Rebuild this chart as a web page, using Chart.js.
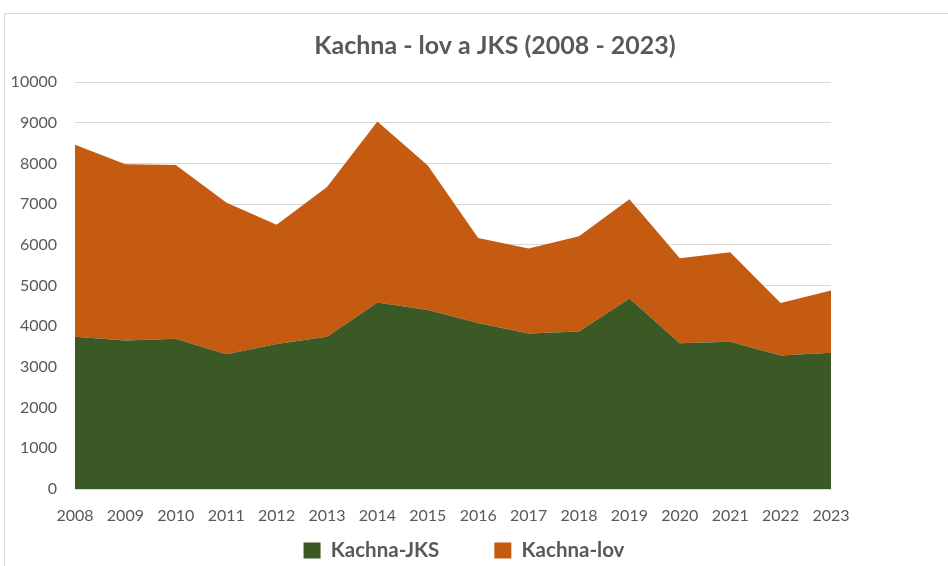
<!DOCTYPE html>
<html>
<head>
<meta charset="utf-8">
<script src="https://cdn.jsdelivr.net/npm/chart.js@4"></script>
<style>
  html, body { margin: 0; padding: 0; background: #fff; }
  #wrap { position: relative; width: 948px; height: 566px; overflow: hidden; }
  #frame { position: absolute; left: 4px; top: 13px; width: 1000px; height: 600px; border: 1px solid #d9d9d9; box-sizing: border-box; }
  canvas { position: absolute; left: 0; top: 0; }
</style>
</head>
<body>
<div id="wrap">
  <div id="frame"></div>
  <canvas id="chart" width="948" height="566"></canvas>
</div>
<script>
// Data
const years = ['2008', '2009', '2010', '2011', '2012', '2013', '2014', '2015',
               '2016', '2017', '2018', '2019', '2020', '2021', '2022', '2023'];
const kachnaJKS = [3740, 3650, 3690, 3310, 3560, 3740, 4580, 4400,
                   4080, 3820, 3870, 4680, 3580, 3620, 3280, 3350];
const kachnaLov = [4720, 4330, 4270, 3730, 2930, 3680, 4450, 3550,
                   2090, 2090, 2340, 2440, 2090, 2200, 1290, 1530];
const yMax = 10000;
const yStep = 1000;

const gray = '#595959';
const gridColor = '#d9d9d9';

// move title / legend to where Excel put them, and let x labels show
const nudge = {
    id: 'nudge',
    afterLayout(chart) {
        const t = chart.titleBlock, l = chart.legend, x = chart.scales.x;
        if (t) { t.left += 79.5; t.right += 79.5; }
        if (l) { l.left += 48.5; l.right += 48.5; l.top -= 3.75; l.bottom -= 3.75; }
        x.bottom = x.top + 45;
    }
};

new Chart(document.getElementById('chart'), {
    type: 'line',
    data: {
        labels: years,
        datasets: [
            {
                label: 'Kachna-JKS',
                data: kachnaJKS,
                backgroundColor: '#3b5925',
                borderColor: '#3b5925',
                borderWidth: 0,
                pointRadius: 0,
                fill: 'origin'
            },
            {
                label: 'Kachna-lov',
                data: kachnaLov,
                backgroundColor: '#c55a11',
                borderColor: '#c55a11',
                borderWidth: 0,
                pointRadius: 0,
                fill: '-1'
            }
        ]
    },
    options: {
        responsive: false,
        animation: false,
        layout: { padding: { left: 0, right: 117, top: 0, bottom: -8.5 } },
        plugins: {
            title: {
                display: true,
                text: 'Kachna - lov a JKS (2008 - 2023)',
                color: gray,
                font: { family: 'Lato', size: 25, weight: 'bold' },
                padding: { top: 31, bottom: 21 }
            },
            legend: {
                position: 'bottom',
                labels: {
                    color: gray,
                    font: { family: 'Lato', size: 20.5, weight: 'bold' },
                    boxWidth: 17,
                    boxHeight: 16,
                    padding: 55
                }
            },
            tooltip: { enabled: false }
        },
        scales: {
            x: {
                offset: false,
                grid: { display: false, drawTicks: false },
                border: { display: true, color: gridColor },
                ticks: {
                    color: gray,
                    font: { family: 'Lato', size: 16 },
                    padding: 17,
                    maxRotation: 0,
                    autoSkip: false
                },
                afterFit(scale) { scale.height = 0; }
            },
            y: {
                stacked: true,
                min: 0,
                max: yMax,
                grid: { color: gridColor, drawTicks: false },
                border: { display: false },
                ticks: {
                    stepSize: yStep,
                    color: gray,
                    font: { family: 'Lato', size: 16 },
                    padding: 18,
                    callback: (v) => String(v)
                },
                afterFit(scale) { scale.width = 75; }
            }
        }
    },
    plugins: [nudge]
});
</script>
</body>
</html>
